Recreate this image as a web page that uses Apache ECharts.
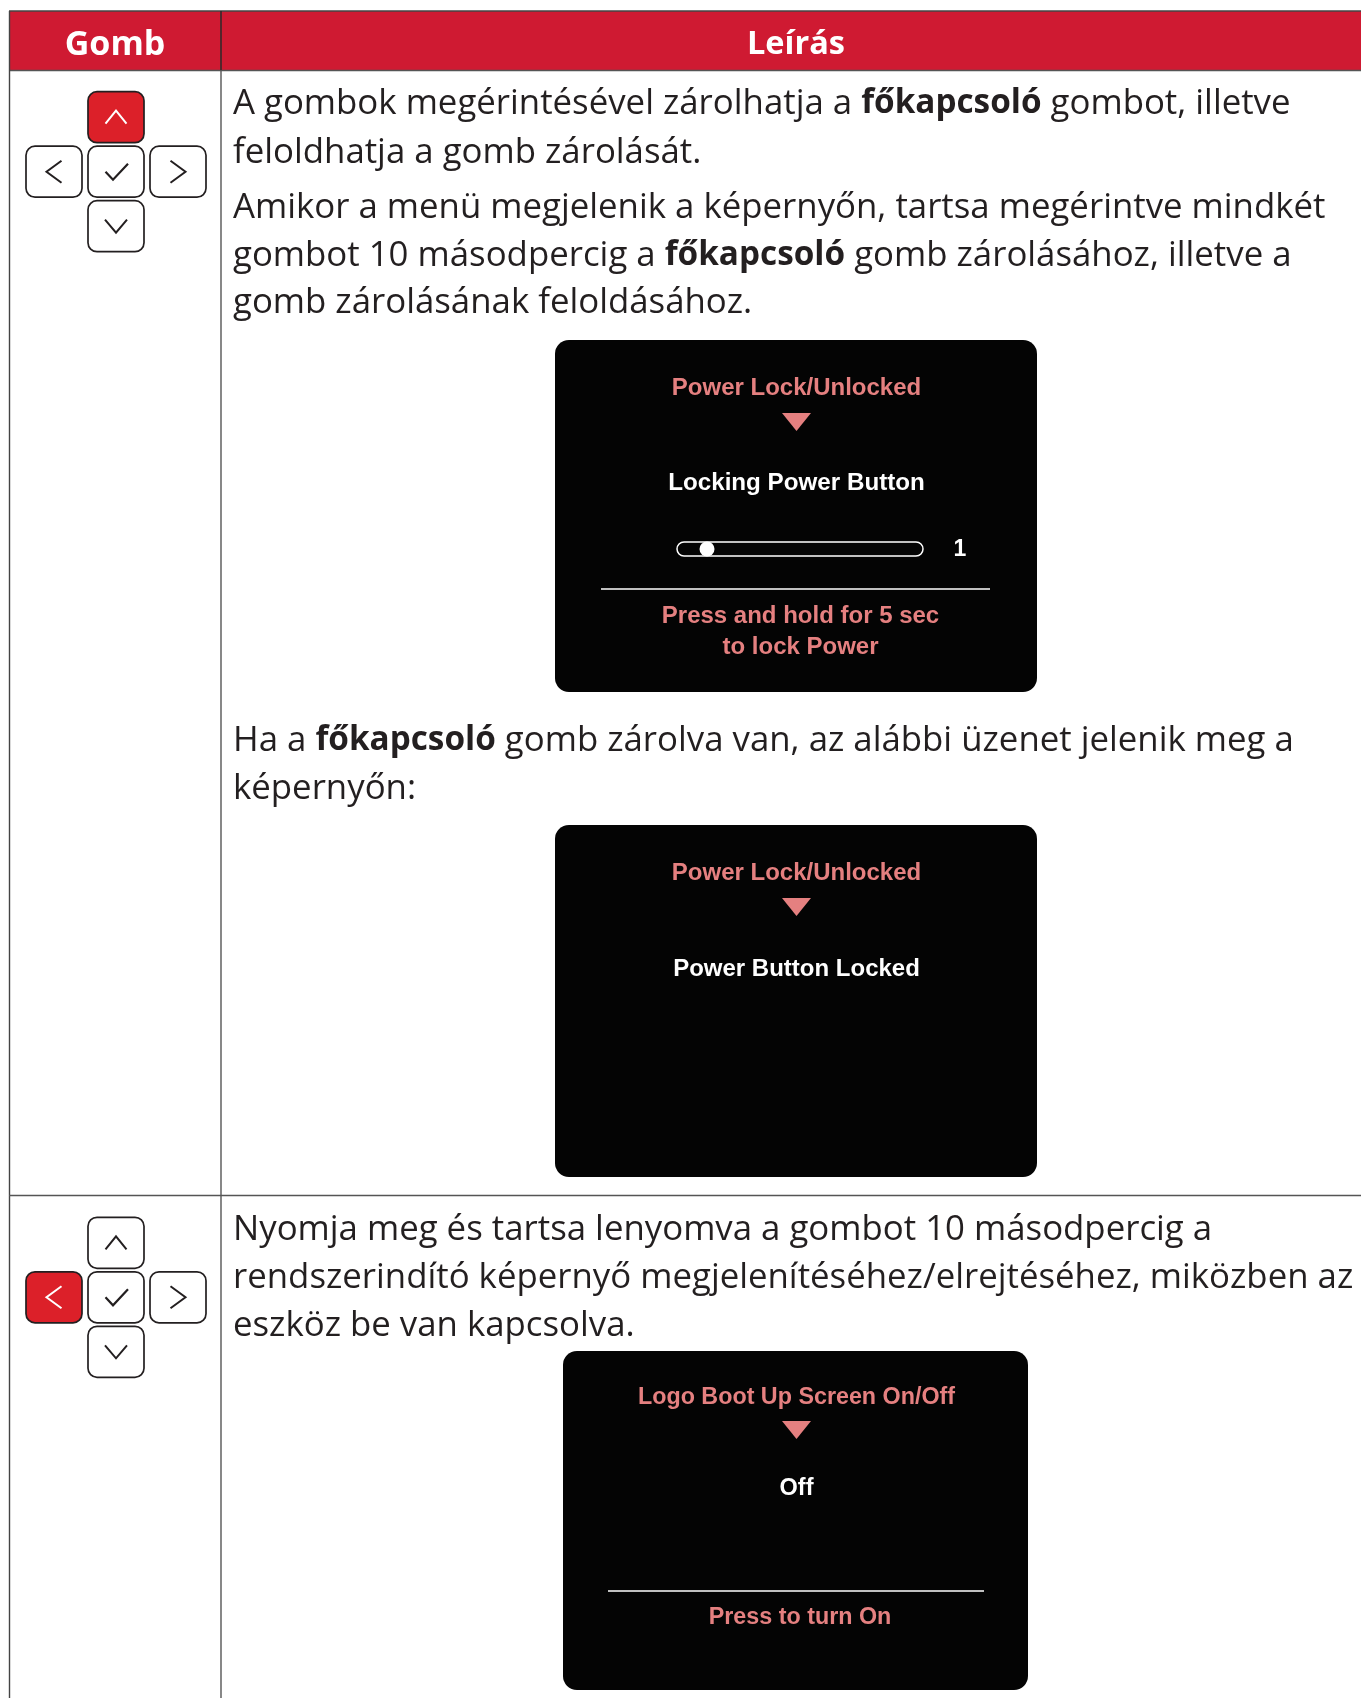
<!DOCTYPE html>
<html>
<head>
<meta charset="utf-8">
<title>Gomb / Leírás</title>
<script src="https://cdn.jsdelivr.net/npm/echarts@6/dist/echarts.min.js"></script>
<style>
  html, body { margin: 0; padding: 0; background: #fff; }
  #chart-dom { width: 1361px; height: 1698px; }
</style>
</head>
<body>
<div id="chart-dom"></div>
<script>
const headers = ['Gomb', 'Leírás']
const row1Para1 = [
  'A gombok megérintésével zárolhatja a {b|főkapcsoló} gombot, illetve',
  'feloldhatja a gomb zárolását.'
]
const row1Para2 = [
  'Amikor a menü megjelenik a képernyőn, tartsa megérintve mindkét',
  'gombot 10 másodpercig a {b|főkapcsoló} gomb zárolásához, illetve a',
  'gomb zárolásának feloldásához.'
]
const row1Para3 = [
  'Ha a {b|főkapcsoló} gomb zárolva van, az alábbi üzenet jelenik meg a',
  'képernyőn:'
]
const row2Para1 = [
  'Nyomja meg és tartsa lenyomva a gombot 10 másodpercig a',
  'rendszerindító képernyő megjelenítéséhez/elrejtéséhez, miközben az',
  'eszköz be van kapcsolva.'
]
const lockTitle = 'Power Lock/Unlocked'
const lockingLabel = 'Locking Power Button'
const lockingValue = '1'
const lockingHint = ['Press and hold for 5 sec', 'to lock Power']
const lockedLabel = 'Power Button Locked'
const bootTitle = 'Logo Boot Up Screen On/Off'
const bootLabel = 'Off'
const bootHint = ['Press to turn On']

const RED = '#cf1a32'
const KEY_RED = '#dc2029'
const INK = '#231f20'
const PINK = '#e58080'
const BODY_FONT = '"Open Sans", "Noto Sans", sans-serif'
const OSD_FONT = '"Liberation Sans", Arial, sans-serif'

const els = []

function rect (x, y, w, h, fill, r, stroke, lw) {
  els.push({
    type: 'rect',
    shape: { x, y, width: w, height: h, r: r || 0 },
    style: { fill: fill, stroke: stroke || null, lineWidth: lw || 0 }
  })
}

function line (x1, y1, x2, y2, color, lw) {
  els.push({
    type: 'line',
    shape: { x1, y1, x2, y2 },
    style: { stroke: color, lineWidth: lw }
  })
}

function poly (points, color, lw) {
  els.push({
    type: 'polyline',
    shape: { points },
    style: { stroke: color, lineWidth: lw, fill: null }
  })
}

function label (x, y, text, size, color, weight, family, align) {
  els.push({
    type: 'text',
    x,
    y,
    style: {
      text,
      fontSize: size,
      fontWeight: weight || 'normal',
      fontFamily: family,
      fill: color,
      align: align || 'center',
      verticalAlign: 'middle'
    }
  })
}

function para (lines, x, ys) {
  lines.forEach((txt, i) => {
    els.push({
      type: 'text',
      x,
      y: ys[i],
      style: {
        text: txt,
        fontSize: 34.8,
        fontFamily: BODY_FONT,
        fill: INK,
        align: 'left',
        verticalAlign: 'middle',
        rich: {
          b: { fontSize: 33.3, fontWeight: 'bold', fontFamily: BODY_FONT, fill: INK }
        }
      }
    })
  })
}

// one key of the pad, cx/cy is the key centre
function key (cx, cy, kind, active) {
  const color = active ? '#fff' : INK
  rect(cx - 28, cy - 25.5, 56, 51, active ? KEY_RED : '#fff', 9, INK, 1.7)
  if (kind === 'up') poly([[cx - 10.5, cy + 6.5], [cx, cy - 6.5], [cx + 10.5, cy + 6.5]], color, 2)
  if (kind === 'down') poly([[cx - 11, cy - 6.5], [cx, cy + 6.5], [cx + 11, cy - 6.5]], color, 2)
  if (kind === 'left') poly([[cx + 7.5, cy - 11], [cx - 7.5, cy], [cx + 7.5, cy + 11]], color, 2)
  if (kind === 'right') poly([[cx - 7.5, cy - 11], [cx + 7.5, cy], [cx - 7.5, cy + 11]], color, 2)
  if (kind === 'ok') poly([[cx - 10.5, cy], [cx - 3, cy + 8], [cx + 12, cy - 8]], color, 2.2)
}

function pad (cy, activeKey) {
  key(116, cy - 54.5, 'up', activeKey === 'up')
  key(54, cy, 'left', activeKey === 'left')
  key(116, cy, 'ok', false)
  key(178, cy, 'right', false)
  key(116, cy + 54.5, 'down', false)
}

function triangle (cx, top) {
  els.push({
    type: 'polygon',
    shape: { points: [[cx - 14.5, top], [cx + 14.5, top], [cx, top + 18]] },
    style: { fill: PINK }
  })
}

// OSD panel 1 and 2 share the same box
function lockPanel (top) {
  rect(555, top, 482, 352, '#040404', 14)
  label(796.5, top + 48.5, lockTitle, 24, PINK, 'bold', OSD_FONT)
  triangle(796.5, top + 73)
}

// table frame
rect(9, 11, 1352, 59, RED)
line(9, 11, 1361, 11, '#444', 1.5)
line(9, 70.5, 1361, 70.5, '#555', 1.5)
line(9.5, 11, 9.5, 1698, '#444', 1.4)
line(221, 11, 221, 70, '#2a2a2a', 1.5)
line(221, 70, 221, 1698, '#555', 1.4)
line(9, 1195.5, 1361, 1195.5, '#555', 1.5)
label(115, 45, headers[0], 34, '#fff', 'bold', BODY_FONT)
label(796, 45, headers[1], 32.5, '#fff', 'bold', BODY_FONT)

pad(171.7, 'up')
pad(1297.3, 'left')

para(row1Para1, 233, [104, 153])
para(row1Para2, 233, [208, 256, 303])
para(row1Para3, 233, [741, 789])
para(row2Para1, 233, [1230, 1278, 1326])

lockPanel(340)
label(796.5, 483.5, lockingLabel, 24.2, '#fff', 'bold', OSD_FONT)
rect(677, 542, 246, 14, '#040404', 7, '#fff', 1.5)
els.push({
  type: 'circle',
  shape: { cx: 707, cy: 549, r: 7.5 },
  style: { fill: '#fff' }
})
label(960, 550, lockingValue, 23, '#fff', 'bold', OSD_FONT)
line(601, 589, 990, 589, '#fff', 1.5)
label(800.5, 616, lockingHint[0], 24, PINK, 'bold', OSD_FONT)
label(800.5, 647, lockingHint[1], 24, PINK, 'bold', OSD_FONT)

lockPanel(825)
label(796.5, 969, lockedLabel, 24, '#fff', 'bold', OSD_FONT)

rect(563, 1351, 465, 339, '#040404', 14)
label(796.5, 1398, bootTitle, 23.3, PINK, 'bold', OSD_FONT)
triangle(796.5, 1421)
label(796.5, 1489, bootLabel, 23.5, '#fff', 'bold', OSD_FONT)
line(608, 1591, 984, 1591, '#fff', 1.5)
label(800, 1618, bootHint[0], 23.3, PINK, 'bold', OSD_FONT)

const myChart = echarts.init(document.getElementById('chart-dom'))
myChart.setOption({
  animation: false,
  backgroundColor: '#fff',
  graphic: { elements: els }
})
</script>
</body>
</html>
